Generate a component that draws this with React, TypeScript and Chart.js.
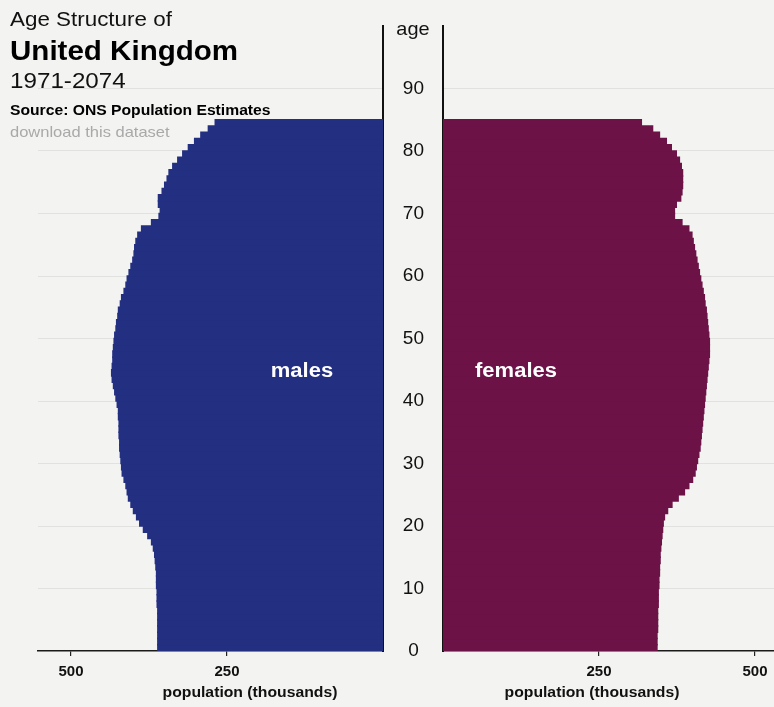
import React, { useEffect, useRef } from 'react';
import { Chart, registerables } from 'chart.js';

Chart.register(...registerables);

// ---- data ----
const ages = [
  0, 1, 2, 3, 4, 5, 6, 7, 8, 9, 10, 11, 12, 13, 14, 15, 16, 17, 18, 19,
  20, 21, 22, 23, 24, 25, 26, 27, 28, 29, 30, 31, 32, 33, 34, 35, 36, 37, 38, 39,
  40, 41, 42, 43, 44, 45, 46, 47, 48, 49, 50, 51, 52, 53, 54, 55, 56, 57, 58, 59,
  60, 61, 62, 63, 64, 65, 66, 67, 68, 69, 70, 71, 72, 73, 74, 75, 76, 77, 78, 79,
  80, 81, 82, 83, 84,
];

// population (thousands), males by single year of age
const males = [
  362, 362, 362, 362, 362, 362, 362, 363, 363, 363,
  364, 364, 364, 365, 366, 367, 369, 372, 378, 385,
  391, 396, 401, 405, 409, 411, 413, 416, 419, 420,
  421, 422, 423, 423, 424, 424, 424, 425, 425, 427,
  429, 431, 433, 435, 436, 435, 434, 434, 433, 432,
  431, 429, 428, 426, 425, 422, 420, 416, 413, 411,
  408, 405, 402, 400, 399, 397, 394, 388, 372, 360,
  358, 361, 361, 355, 351, 347, 344, 338, 330, 322,
  313, 303, 293, 281, 270,
];

// population (thousands), females by single year of age
const females = [
  344, 344, 344, 345, 345, 345, 345, 346, 346, 346,
  347, 347, 348, 348, 349, 349, 350, 351, 352, 353,
  354, 356, 361, 368, 378, 388, 395, 401, 405, 407,
  409, 411, 413, 414, 415, 416, 417, 418, 419, 420,
  421, 422, 423, 424, 425, 426, 427, 428, 428, 428,
  427, 426, 425, 424, 423, 421, 420, 418, 416, 414,
  412, 410, 408, 406, 404, 402, 400, 395, 384, 372,
  372, 375, 382, 384, 385, 385, 385, 383, 380, 375,
  367, 359, 348, 337, 319,
];

const ageTicks = [0, 10, 20, 30, 40, 50, 60, 70, 80, 90];
const popTicks = [250, 500];

const MALE_COLOR = '#232f80';
const FEMALE_COLOR = '#6d1247';
const BG = '#f3f3f1';
const FONT = 'Arial, "Liberation Sans", Helvetica, sans-serif';
const PX_PER_K = 0.624;
const LEFT_MAX = (383 - 38) / PX_PER_K;
const RIGHT_MAX = (774 - 443) / PX_PER_K;
const faintGrid = (ctx: any) =>
  ctx.tick && ctx.tick.value > 0 && ctx.tick.value < 100 ? 'rgba(0,0,0,0.07)' : 'rgba(0,0,0,0)';

function xScale(reverse: boolean, max: number) {
  return {
    type: 'linear',
    reverse,
    min: 0,
    max,
    position: 'bottom',
    afterBuildTicks: (s: any) => {
      s.ticks = popTicks.map((v) => ({ value: v }));
    },
    afterFit: (s: any) => {
      s.height = 56;
      s.paddingLeft = 0;
      s.paddingRight = 0;
    },
    grid: { drawOnChartArea: false, drawTicks: true, tickLength: 5, color: '#222', lineWidth: 1.2 },
    border: { display: true, color: '#1a1a1a', width: 1.5 },
    ticks: {
      font: { family: FONT, size: 15, weight: 'bold' },
      color: '#111',
      padding: 7,
      maxRotation: 0,
      autoSkip: false,
    },
  };
}

function yScale(position: string, width: number, showLabels: boolean) {
  return {
    type: 'linear',
    position,
    min: 0,
    max: 100,
    offset: false,
    afterBuildTicks: (s: any) => {
      s.ticks = ageTicks.map((v) => ({ value: v }));
    },
    afterFit: (s: any) => {
      s.width = width;
      s.paddingTop = 0;
      s.paddingBottom = 0;
    },
    grid: { drawTicks: false, offset: false, color: faintGrid, lineWidth: 1 },
    border: { display: true, color: '#111', width: 2 },
    ticks: showLabels
      ? {
          display: true,
          autoSkip: false,
          crossAlign: 'center',
          padding: 19,
          color: '#111',
          font: { family: FONT, size: 19 },
          callback: (v: any) => String(v),
        }
      : { display: false },
  };
}

function build(
  canvas: HTMLCanvasElement,
  values: number[],
  color: string,
  reverse: boolean,
  max: number,
  padLeft: number,
  y: any,
) {
  return new Chart(canvas, {
    type: 'bar',
    data: {
      datasets: [
        {
          data: ages.map((a, i) => ({ x: values[i], y: a + 0.5 })),
          backgroundColor: color,
          borderWidth: 0,
          inflateAmount: 0,
          barPercentage: 1.25,
          categoryPercentage: 1,
        },
      ],
    },
    options: {
      indexAxis: 'y',
      animation: false,
      responsive: false,
      events: [],
      layout: { padding: { left: padLeft, right: 0, top: 26, bottom: 0 } },
      plugins: { legend: { display: false }, tooltip: { enabled: false } },
      scales: {
        x: xScale(reverse, max) as any,
        y,
      },
    },
  } as any);
}

const txt = (
  text: string,
  left: number,
  top: number,
  size: number,
  bold: boolean,
  color = '#111',
  center = false,
  sx = 1.1,
): React.ReactElement => (
  <div
    key={text + left}
    style={{
      position: 'absolute',
      left,
      top,
      fontFamily: FONT,
      fontSize: size,
      lineHeight: `${size}px`,
      fontWeight: bold ? 'bold' : 'normal',
      color,
      whiteSpace: 'nowrap',
      transform: center ? `translateX(-50%) scaleX(${sx})` : `scaleX(${sx})`,
      transformOrigin: center ? 'center' : 'left',
    }}
  >
    {text}
  </div>
);

export default function App() {
  const leftRef = useRef<HTMLCanvasElement>(null);
  const rightRef = useRef<HTMLCanvasElement>(null);

  useEffect(() => {
    const l = build(leftRef.current!, males, MALE_COLOR, true, LEFT_MAX, 38, yScale('right', 7, false));
    const r = build(rightRef.current!, females, FEMALE_COLOR, false, RIGHT_MAX, 0, yScale('left', 53, true));
    return () => {
      l.destroy();
      r.destroy();
    };
  }, []);

  return (
    <div
      style={{
        position: 'absolute',
        left: 0,
        top: 0,
        width: 774,
        height: 707,
        background: BG,
        overflow: 'hidden',
      }}
    >
      <canvas
        ref={leftRef}
        width={390}
        height={707}
        style={{ position: 'absolute', left: 0, top: 0, width: 390, height: 707 }}
      />
      <canvas
        ref={rightRef}
        width={384}
        height={707}
        style={{ position: 'absolute', left: 390, top: 0, width: 384, height: 707 }}
      />
      {txt('Age Structure of', 10, 9, 20, false, '#111', false, 1.12)}
      {txt('United Kingdom', 10, 37, 28, true, '#000', false, 1.055)}
      {txt('1971-2074', 10, 70, 22, false, '#111', false, 1.1)}
      {txt('Source: ONS Population Estimates', 10, 103, 14, true, '#000', false, 1.12)}
      {txt('download this dataset', 10, 124, 15, false, '#a9a9a9', false, 1.1)}
      {txt('age', 413, 19, 19, false, '#111', true, 1.05)}
      {txt('males', 302, 360, 20, true, '#ffffff', true)}
      {txt('females', 516, 360, 20, true, '#ffffff', true)}
      {txt('population (thousands)', 250, 684, 15, true, '#111', true, 1.05)}
      {txt('population (thousands)', 592, 684, 15, true, '#111', true, 1.05)}
    </div>
  );
}
